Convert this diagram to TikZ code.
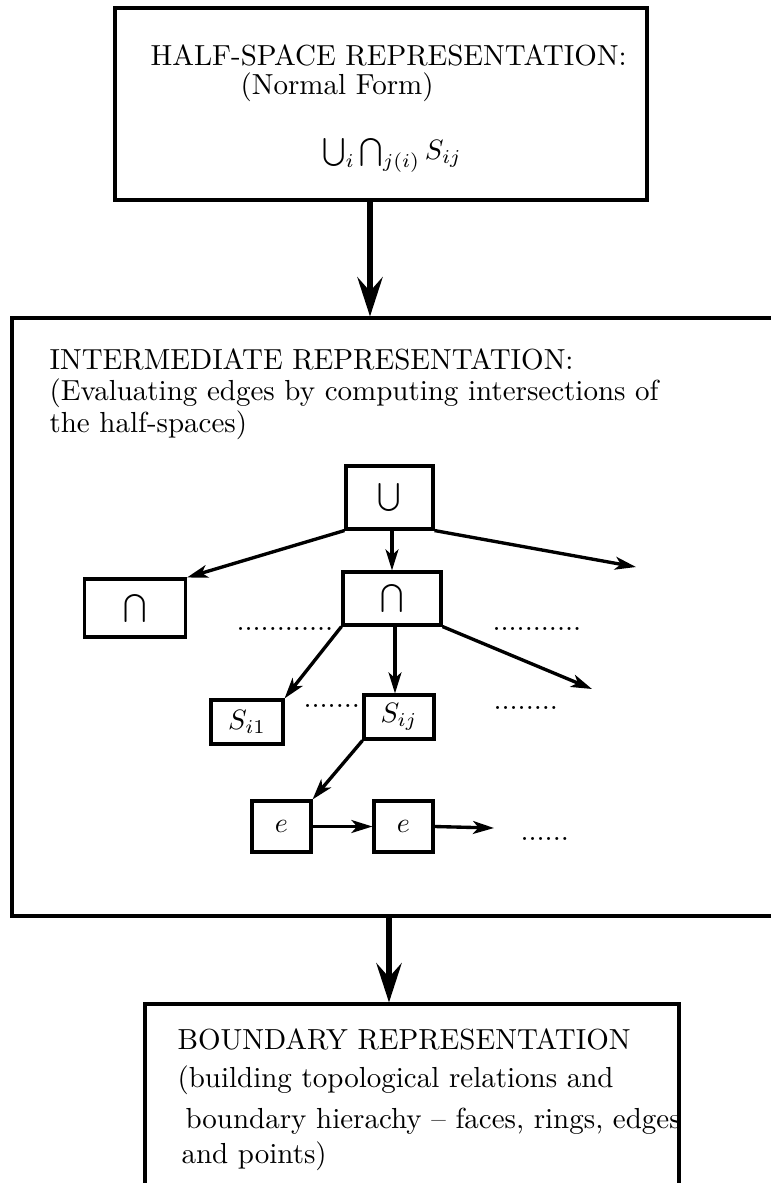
\documentclass[tikz,border=0pt]{standalone}
\usetikzlibrary{arrows.meta}
% one drawing unit
\def\px{0.357pt}
\tikzset{
  box/.style={draw, rectangle, line width=1.1pt, inner sep=0pt},
  txt/.style={inner sep=0pt, anchor=base west},
  bigarrow/.style={line width=2pt, -{Stealth[length=14pt, width=9pt, inset=5pt]}},
  smallarrow/.style={line width=1.2pt, -{Stealth[length=7.5pt, width=4.6pt, inset=2pt]}}
}
\begin{document}
\begin{tikzpicture}[x=\px, y=-\px, font=\fontsize{10.35}{12.4}\selectfont]
\useasboundingbox (0,0) rectangle (771,1183);
\fill[white] (0,0) rectangle (771,1183);
\clip (0,0) rectangle (771,1183);

% --- half-space representation ---
\node[box, minimum width=532*\px, minimum height=192*\px] (top) at (381,104) {};
\node[txt] (t1) at (150,65) {HALF-SPACE REPRESENTATION:};
\node[txt] (t2) at (240,94) {(Normal Form)};
\node[inner sep=0pt, anchor=base] (t3) at (392,159) {$\bigcup_i \bigcap_{j(i)} S_{ij}$};

% --- intermediate representation ---
\node[box, minimum width=818*\px, minimum height=598*\px] (mid) at (421,617) {};
\node[txt] (m1) at (49,369) {INTERMEDIATE REPRESENTATION:};
\node[txt] (m2) at (49,400) {(Evaluating edges by computing intersections of};
\node[txt] (m3) at (49,432) {the half-spaces)};

\node[box, minimum width=87*\px, minimum height=63*\px] (U) at (389.5,497.5) {$\bigcup$};
\node[box, minimum width=101*\px, minimum height=58*\px] (capL) at (135,608) {$\bigcap$};
\node[box, minimum width=98*\px, minimum height=53*\px] (capM) at (392,598.5) {$\bigcap$};
\node[box, minimum width=72*\px, minimum height=44*\px] (Si1) at (247,722) {$S_{i1}$};
\node[box, minimum width=70*\px, minimum height=44*\px] (Sij) at (399,717) {$S_{ij}$};
\node[box, minimum width=59*\px, minimum height=51*\px] (e1) at (281.5,826.5) {$e$};
\node[box, minimum width=59*\px, minimum height=51*\px] (e2) at (403.5,826.5) {$e$};

\node[txt] (dA) at (236,630) {............};
\node[txt] (dB) at (492,630) {...........};
\node[txt] (dC) at (303,707) {.......};
\node[txt] (dD) at (493,709) {........};
\node[txt] (dE) at (520,840) {......};

\coordinate (r1) at (636,567);
\coordinate (r2) at (592,689);
\coordinate (r3) at (494,828);
\coordinate (c2) at (395,0);

\draw[smallarrow] (U.south west) -- (capL.north east);
\draw[smallarrow] (capM.north |- U.south) -- (capM.north);
\draw[smallarrow] (U.south east) -- (r1);
\draw[smallarrow] (capM.south west) -- (Si1.north east);
\draw[smallarrow] (c2 |- capM.south) -- (c2 |- Sij.north);
\draw[smallarrow] (capM.south east) -- (r2);
\draw[smallarrow] (Sij.south west) -- (e1.north east);
\draw[smallarrow] (e1.east) -- (e2.west);
\draw[smallarrow] (e2.east) -- (r3);

% --- boundary representation ---
\node[box, minimum width=534*\px, minimum height=216*\px] (bnd) at (412,1112) {};
\node[txt] (b1) at (177,1049) {BOUNDARY REPRESENTATION};
\node[txt] (b2) at (177,1087) {(building topological relations and};
\node[txt] (b3) at (185,1128) {boundary hierachy -- faces, rings, edges};
\node[txt] (b4) at (181,1163) {and points)};

% --- main flow ---
\coordinate (a1) at (370,0);
\coordinate (a2) at (389,0);
\draw[bigarrow] (a1 |- top.south) -- (a1 |- mid.north);
\draw[bigarrow] (a2 |- mid.south) -- (a2 |- bnd.north);
\end{tikzpicture}
\end{document}
